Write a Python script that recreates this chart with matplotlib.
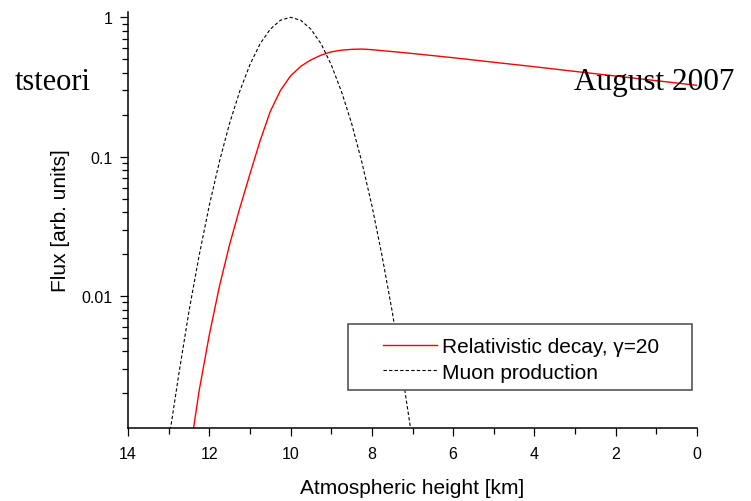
import matplotlib.pyplot as plt
from matplotlib.patches import Rectangle

# heights [km] and flux [arb. units]
decay_height = [12.45, 12.25, 12.0, 11.75, 11.5, 11.25, 11.0, 10.75, 10.5,
                10.25, 10.0, 9.75, 9.5, 9.25, 9.0, 8.75, 8.5, 8.25, 8.0,
                7.0, 6.0, 5.0, 4.0, 3.0, 2.0, 1.0, 0.0]
decay_flux = [0.00085, 0.00209, 0.00525, 0.01175, 0.0234, 0.0427, 0.075,
              0.130, 0.211, 0.2985, 0.380, 0.445, 0.495, 0.535, 0.565, 0.581,
              0.589, 0.592, 0.586, 0.55, 0.513, 0.476, 0.442, 0.409, 0.379,
              0.351, 0.325]

prod_height = [13.0, 12.75, 12.5, 12.25, 12.0, 11.75, 11.5, 11.25, 11.0,
               10.75, 10.5, 10.25, 10.0, 9.75, 9.5, 9.25, 9.0, 8.75, 8.5,
               8.25, 8.0, 7.75, 7.5, 7.25, 7.0]
prod_flux = [0.00091, 0.00275, 0.00776, 0.0195, 0.0447, 0.0923, 0.174, 0.295,
             0.457, 0.646, 0.822, 0.953, 1.0, 0.953, 0.822, 0.646, 0.457,
             0.295, 0.174, 0.0923, 0.0447, 0.0195, 0.00776, 0.00275, 0.00091]

x_ticks = [14, 12, 10, 8, 6, 4, 2, 0]
y_ticks = [0.01, 0.1, 1]
y_tick_labels = ["0.01", "0.1", "1"]

plt.rcParams["font.family"] = ["Liberation Sans", "DejaVu Sans"]

fig = plt.figure(figsize=(7.51, 5.02), dpi=100)
ax = fig.add_axes([128 / 751, 73 / 502, 569 / 751, 416 / 502])

ax.plot(decay_height, decay_flux, color="red", lw=1.0,
        label="Relativistic decay, γ=20")
ax.plot(prod_height, prod_flux, color="black", lw=0.8, ls=(0, (3, 2)),
        label="Muon production")

ax.set_yscale("log")
ax.set_xlim(14, 0)
ax.set_ylim(0.00113, 1.092)
ax.set_xticks(x_ticks)
ax.set_xticks(range(1, 14, 2), minor=True)
ax.set_yticks(y_ticks, labels=y_tick_labels)

for side in ("top", "right"):
    ax.spines[side].set_visible(False)
for side in ("left", "bottom"):
    ax.spines[side].set_linewidth(1.1)
ax.tick_params(which="major", length=6, width=0.9, labelsize=11.5)
ax.tick_params(axis="x", which="major", pad=7)
ax.tick_params(axis="y", which="major", pad=5)
ax.tick_params(which="minor", length=4, width=0.9)

ax.set_xlabel("Atmospheric height [km]", fontsize=15, labelpad=12)
ax.set_ylabel("Flux [arb. units]", fontsize=15, labelpad=8)

# legend box
ax.add_patch(Rectangle((0.3866, 0.0913), 0.6046, 0.1587, transform=ax.transAxes,
                       facecolor="white", edgecolor="#555555", lw=1.2,
                       zorder=5, clip_on=False))
leg = ax.legend(loc="upper left", bbox_to_anchor=(0.448, 0.218),
                frameon=False, fontsize=15, handlelength=2.6,
                handletextpad=0.25, labelspacing=0.3, borderpad=0,
                borderaxespad=0)
leg.set_zorder(6)

# text bleeding in from the page behind
fig.text(15 / 751, 1 - 90 / 502, "tsteori", family="Liberation Serif",
         fontsize=22, va="baseline", ha="left")
fig.text(574 / 751, 1 - 90 / 502, "August 2007", family="Liberation Serif",
         fontsize=22.5, va="baseline", ha="left", zorder=0)

fig.savefig("out.png", dpi=100)
